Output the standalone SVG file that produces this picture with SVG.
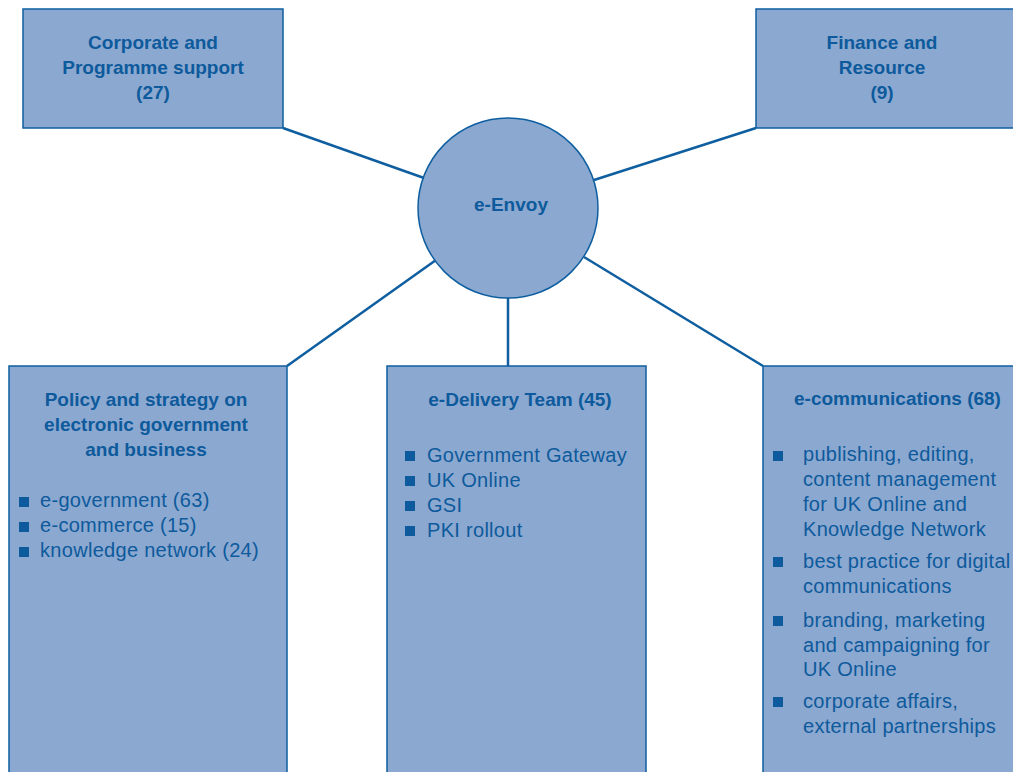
<svg xmlns="http://www.w3.org/2000/svg" width="1013" height="772" viewBox="0 0 1013 772">
<style>
.box{fill:#8BA8D0;stroke:#0E5EA0;stroke-width:1.5}
.conn{stroke:#0E5EA0;stroke-width:2.5;fill:none}
.t{font-family:"Liberation Sans",Arial,sans-serif;font-weight:bold;font-size:19px;fill:#0D5A9C;letter-spacing:0px}
.tc{text-anchor:middle}
.b{font-family:"Liberation Sans",Arial,sans-serif;font-size:20px;fill:#0D5A9C;letter-spacing:0.3px}
.sq{fill:#0D5A9C}
</style>
<rect width="1013" height="772" fill="#ffffff"/>
<g id="connectors">
<line class="conn" x1="283" y1="128" x2="424" y2="178"/>
<line class="conn" x1="756" y1="128" x2="594" y2="180"/>
<line class="conn" x1="287" y1="366" x2="436" y2="260"/>
<line class="conn" x1="508" y1="298" x2="508" y2="366"/>
<line class="conn" x1="763" y1="366" x2="584" y2="257"/>
</g>
<g id="corporate">
<rect class="box" x="23" y="9" width="260" height="119"/>
<text class="t tc" x="153" y="49">Corporate and</text>
<text class="t tc" x="153" y="74">Programme support</text>
<text class="t tc" x="153" y="99">(27)</text>
</g>
<g id="finance">
<rect class="box" x="756" y="9" width="270" height="119"/>
<text class="t tc" x="882" y="49">Finance and</text>
<text class="t tc" x="882" y="74">Resource</text>
<text class="t tc" x="882" y="99">(9)</text>
</g>
<g id="envoy">
<circle class="box" cx="508" cy="208" r="90"/>
<text class="t tc" x="511" y="211">e-Envoy</text>
</g>
<g id="policy">
<rect class="box" x="9" y="366" width="278" height="420"/>
<text class="t tc" x="146" y="406">Policy and strategy on</text>
<text class="t tc" x="146" y="431">electronic government</text>
<text class="t tc" x="146" y="456">and business</text>
<rect class="sq" x="19" y="497" width="10" height="10"/>
<rect class="sq" x="19" y="522" width="10" height="10"/>
<rect class="sq" x="19" y="547" width="10" height="10"/>
<text class="b" x="40" y="507">e-government (63)</text>
<text class="b" x="40" y="532">e-commerce (15)</text>
<text class="b" x="40" y="557">knowledge network (24)</text>
</g>
<g id="delivery">
<rect class="box" x="387" y="366" width="259" height="420"/>
<text class="t tc" x="520" y="406">e-Delivery Team (45)</text>
<rect class="sq" x="405" y="451" width="10" height="10"/>
<rect class="sq" x="405" y="476" width="10" height="10"/>
<rect class="sq" x="405" y="501" width="10" height="10"/>
<rect class="sq" x="405" y="526" width="10" height="10"/>
<text class="b" x="427" y="462">Government Gateway</text>
<text class="b" x="427" y="487">UK Online</text>
<text class="b" x="427" y="512">GSI</text>
<text class="b" x="427" y="537">PKI rollout</text>
</g>
<g id="ecomms">
<rect class="box" x="763" y="366" width="270" height="420"/>
<text class="t" x="794" y="405">e-communications (68)</text>
<rect class="sq" x="773" y="451" width="10" height="10"/>
<rect class="sq" x="773" y="557" width="10" height="10"/>
<rect class="sq" x="773" y="616" width="10" height="10"/>
<rect class="sq" x="773" y="697" width="10" height="10"/>
<text class="b" x="803" y="461">publishing, editing,</text>
<text class="b" x="803" y="486">content management</text>
<text class="b" x="803" y="511">for UK Online and</text>
<text class="b" x="803" y="536">Knowledge Network</text>
<text class="b" x="803" y="568">best practice for digital</text>
<text class="b" x="803" y="593">communications</text>
<text class="b" x="803" y="627">branding, marketing</text>
<text class="b" x="803" y="652">and campaigning for</text>
<text class="b" x="803" y="676">UK Online</text>
<text class="b" x="803" y="708">corporate affairs,</text>
<text class="b" x="803" y="733">external partnerships</text>
</g>
</svg>
